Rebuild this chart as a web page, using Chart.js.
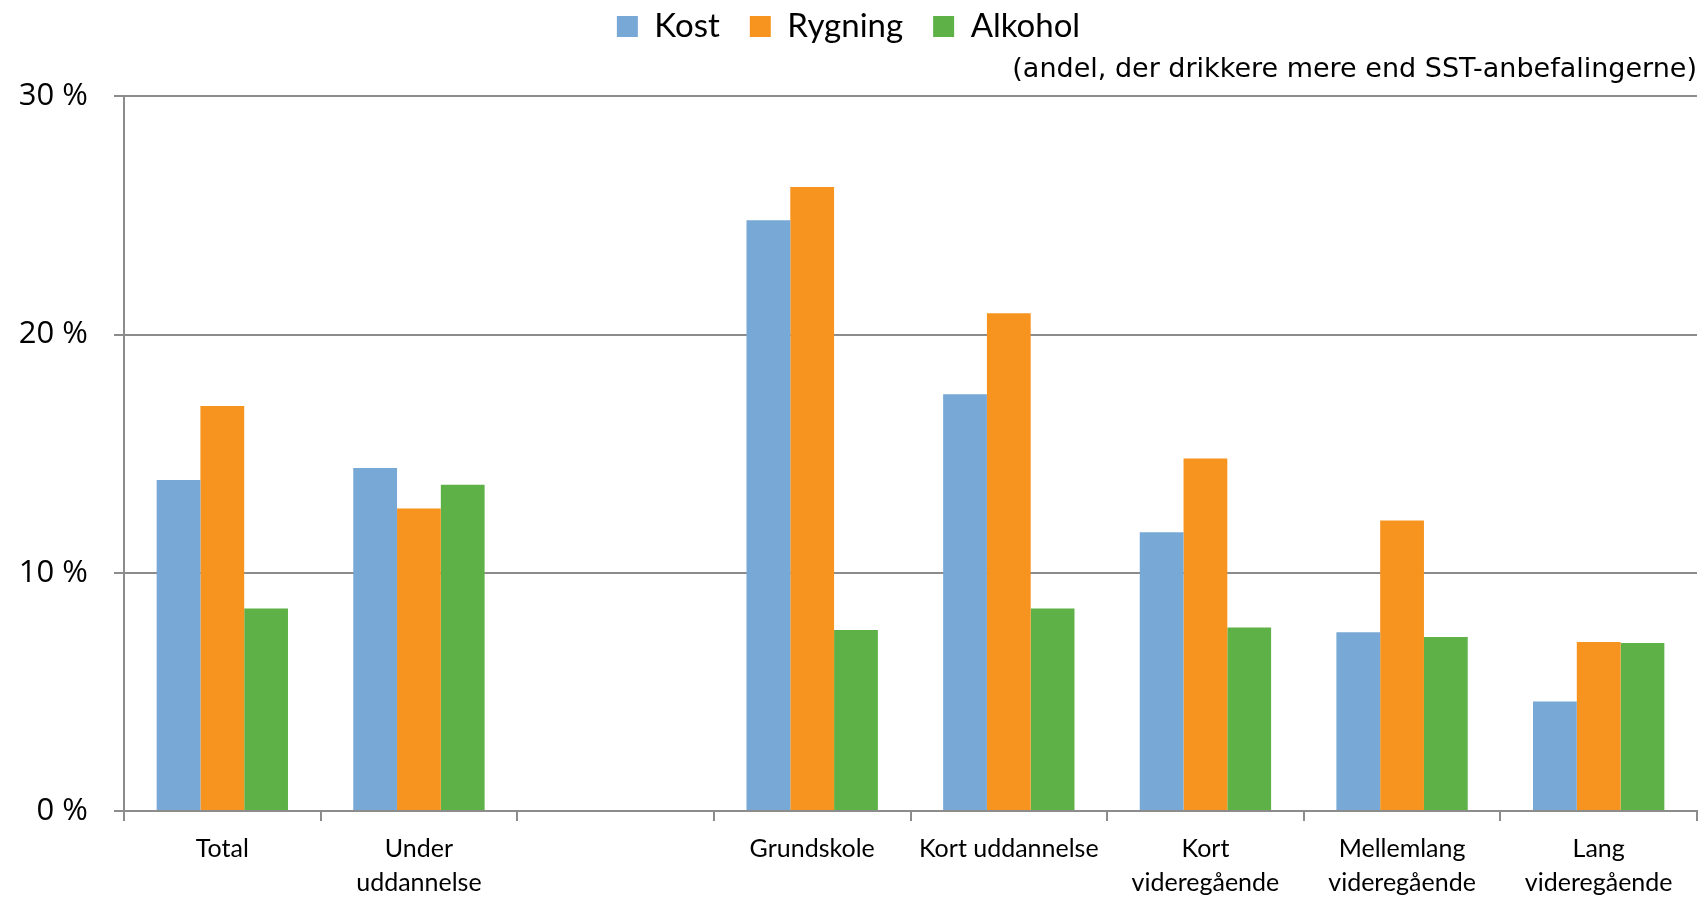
<!DOCTYPE html>
<html>
<head>
<meta charset="utf-8">
<script src="https://cdn.jsdelivr.net/npm/chart.js@4"></script>
<style>
  html, body { margin: 0; padding: 0; background: #fff; }
  #wrap { width: 1706px; height: 900px; }
</style>
</head>
<body>
<div id="wrap"><canvas id="chart"></canvas></div>
<script>
const categories = ['Total', ['Under', 'uddannelse'], '', 'Grundskole', 'Kort uddannelse',
    ['Kort', 'videregående'], ['Mellemlang', 'videregående'], ['Lang', 'videregående']];
const kost     = [13.9, 14.4, null, 24.8, 17.5, 11.7, 7.5, 4.6];
const rygning  = [17.0, 12.7, null, 26.2, 20.9, 14.8, 12.2, 7.1];
const alkohol  = [8.5, 13.7, null, 7.6, 8.5, 7.7, 7.3, 7.05];
const yTicks = [0, 10, 20, 30];

const axisGray = '#8c8c8c';

new Chart(document.getElementById('chart').getContext('2d'), {
    type: 'bar',
    data: {
        labels: categories,
        datasets: [
            { label: 'Kost', data: kost, backgroundColor: '#77a8d6' },
            { label: 'Rygning', data: rygning, backgroundColor: '#f7941f' },
            { label: 'Alkohol', data: alkohol, backgroundColor: '#5eb147' }
        ]
    },
    options: {
        responsive: true,
        maintainAspectRatio: false,
        animation: false,
        datasets: {
            bar: { barPercentage: 1, categoryPercentage: 0.668 }
        },
        layout: { padding: { top: -20, left: 0, right: 9, bottom: 0 } },
        plugins: {
            tooltip: { enabled: false },
            legend: {
                position: 'top',
                weight: 3000,
                labels: {
                    color: '#000',
                    font: { family: 'Lato', size: 33 },
                    boxWidth: 21,
                    boxHeight: 21,
                    padding: 30
                }
            },
            subtitle: {
                display: true,
                text: '(andel, der drikkere mere end SST-anbefalingerne)',
                align: 'end',
                color: '#000',
                font: { family: 'DejaVu Sans', size: 27 },
                padding: { top: 1, bottom: 10 }
            }
        },
        scales: {
            x: {
                grid: {
                    offset: true,
                    drawOnChartArea: false,
                    color: axisGray,
                    lineWidth: 2,
                    tickLength: 10
                },
                border: { color: axisGray, width: 2 },
                ticks: {
                    color: '#000',
                    font: { family: 'Lato', size: 25, lineHeight: 1.36 },
                    padding: 11,
                    maxRotation: 0,
                    autoSkip: false
                },
                afterFit: (scale) => { scale.height = 89; }
            },
            y: {
                min: 0,
                max: 30,
                afterBuildTicks: (scale) => { scale.ticks = yTicks.map(v => ({ value: v })); },
                grid: { color: axisGray, lineWidth: 2, tickLength: 10 },
                border: { color: axisGray, width: 2 },
                ticks: {
                    color: '#000',
                    font: { family: 'Open Sans', size: 31 },
                    padding: 26,
                    callback: (v) => v + ' %'
                },
                afterFit: (scale) => { scale.width = 124; }
            }
        }
    }
});
</script>
</body>
</html>
